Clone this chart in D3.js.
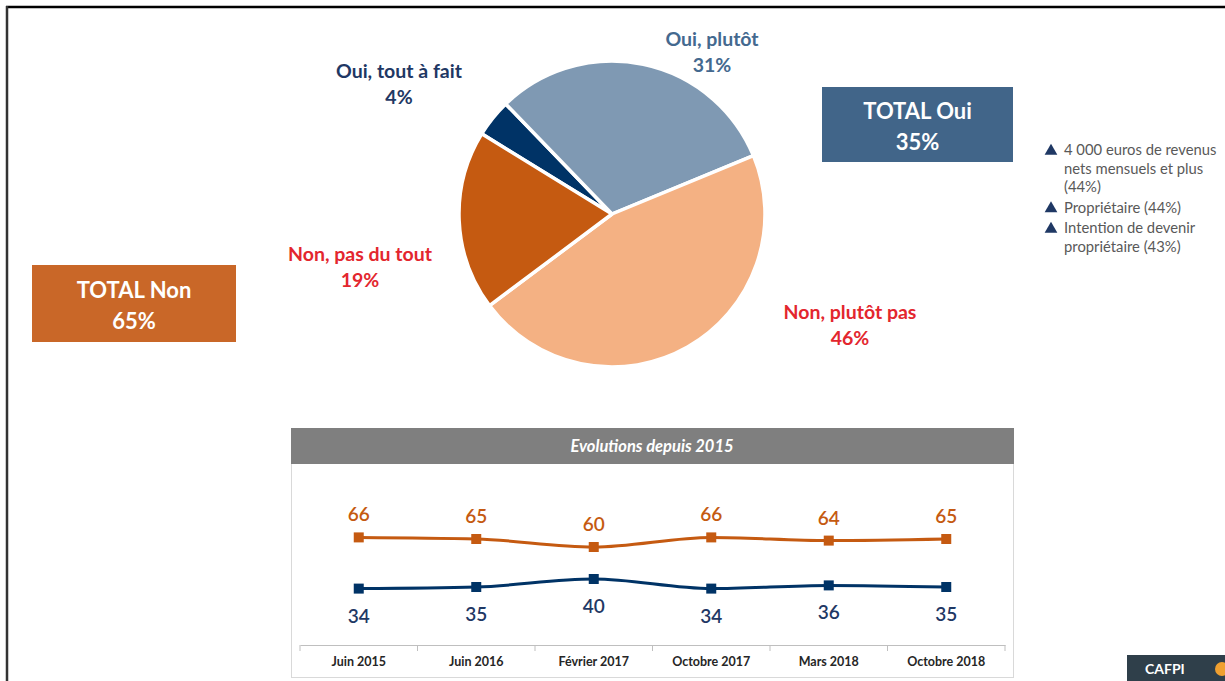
<!DOCTYPE html>
<html>
<head>
<meta charset="utf-8">
<script src="https://cdn.jsdelivr.net/npm/d3@7"></script>
<style>
html,body{margin:0;padding:0;background:#fff;}
svg{display:block;font-family:Lato,"Open Sans",sans-serif;}
</style>
</head>
<body>
<svg id="chart" width="1225" height="681"></svg>
<script>
// ---- Data ----
const pieCategories = ["Oui, tout à fait", "Oui, plutôt", "Non, plutôt pas", "Non, pas du tout"];
const pieValues = [4, 31, 46, 19];
const pieColors = ["#003366", "#7f99b3", "#f4b183", "#c55a11"];
const pieLabelColors = ["#1f3864", "#44698f", "#e3262e", "#e3262e"];

const totalLabels = ["TOTAL Oui", "TOTAL Non"];
const totalValues = [35, 65];

const legendItems = ["4 000 euros de revenus|nets mensuels et plus|(44%)", "Propriétaire (44%)", "Intention de devenir|propriétaire (43%)"];

const periods = ["Juin 2015", "Juin 2016", "Février 2017", "Octobre 2017", "Mars 2018", "Octobre 2018"];
const serieNon = [66, 65, 60, 66, 64, 65];
const serieOui = [34, 35, 40, 34, 36, 35];
const lineTitle = "Evolutions depuis 2015";

// ---- Drawing ----
const svg = d3.select("#chart");

// frame
svg.append("line").attr("x1", 6).attr("x2", 1225).attr("y1", 7).attr("y2", 7).attr("stroke", "#000").attr("stroke-width", 2.5);
svg.append("line").attr("x1", 7).attr("x2", 7).attr("y1", 6).attr("y2", 681).attr("stroke", "#333").attr("stroke-width", 2.5);

// pie
const cx = 612, cy = 214, R = 153;
const pie = d3.pie().sort(null).value(d => d)
  .startAngle(-58.4 * Math.PI / 180).endAngle((360 - 58.4) * Math.PI / 180);
const arcs = pie(pieValues);
const arc = d3.arc().innerRadius(0).outerRadius(R);
const gPie = svg.append("g").attr("transform", `translate(${cx},${cy})`);
gPie.selectAll("path").data(arcs).join("path")
  .attr("d", arc)
  .attr("fill", (d, i) => pieColors[i])
  .attr("stroke", "#fff").attr("stroke-width", 3.5).attr("stroke-linejoin", "round");

// pie labels (placed outside)
const labelPos = [[399, 78], [712, 46], [850, 319], [360, 261]];
pieCategories.forEach((c, i) => {
  const t = svg.append("text").attr("text-anchor", "middle")
    .attr("font-weight", 700).attr("font-size", 19.5).attr("fill", pieLabelColors[i]);
  t.append("tspan").attr("x", labelPos[i][0]).attr("y", labelPos[i][1]).text(c);
  t.append("tspan").attr("x", labelPos[i][0]).attr("y", labelPos[i][1] + 26).text(pieValues[i] + "%");
});

// total boxes
const boxes = [
  {x: 822, y: 87, w: 191, h: 75, fill: "#416589"},
  {x: 32, y: 265, w: 204, h: 77, fill: "#c96728"}
];
boxes.forEach((b, i) => {
  svg.append("rect").attr("x", b.x).attr("y", b.y).attr("width", b.w).attr("height", b.h).attr("fill", b.fill);
  const t = svg.append("text").attr("text-anchor", "middle").attr("fill", "#fff")
    .attr("font-weight", 700).attr("font-size", 22);
  t.append("tspan").attr("x", b.x + b.w / 2).attr("y", b.y + b.h / 2 - 6).text(totalLabels[i]);
  t.append("tspan").attr("x", b.x + b.w / 2).attr("y", b.y + b.h / 2 + 25).text(totalValues[i] + "%");
});

// legend
let ly = 155;
legendItems.forEach((it, i) => {
  const lines = it.split("|");
  svg.append("path").attr("d", d3.symbol(d3.symbolTriangle, 70)())
    .attr("transform", `translate(1051,${ly - 4})`).attr("fill", "#1f3864");
  lines.forEach((l, j) => {
    svg.append("text").attr("x", 1064).attr("y", ly + j * 18.5)
      .attr("font-size", 14.8).attr("fill", "#595959").text(l);
  });
  ly += lines.length * 18.5 + 2;
});

// line chart panel
const px0 = 291, px1 = 1013, py0 = 428, py1 = 677;
svg.append("rect").attr("x", px0 + 0.5).attr("y", py0 + 0.5).attr("width", px1 - px0).attr("height", py1 - py0)
  .attr("fill", "#fff").attr("stroke", "#d9d9d9").attr("stroke-width", 1);
svg.append("rect").attr("x", px0).attr("y", py0).attr("width", px1 - px0 + 1).attr("height", 36).attr("fill", "#7f7f7f");
svg.append("text").attr("x", (px0 + px1) / 2).attr("y", 452).attr("text-anchor", "middle")
  .attr("fill", "#fff").attr("font-style", "italic").attr("font-weight", 700).attr("font-size", 16.5).text(lineTitle);

const x = d3.scaleBand().domain(periods).range([300, 1005]);
const y = d3.scaleLinear().domain([0, 100]).range([643, 483]);
const xAxis = d3.axisBottom(x).tickSize(0).tickPadding(12);
const gx = svg.append("g").attr("transform", "translate(0,645)").call(xAxis);
gx.select(".domain").attr("stroke", "#bfbfbf");
gx.selectAll("text").attr("font-size", 12.5).attr("font-weight", 700).attr("fill", "#262626").attr("font-family", "Lato, sans-serif");
// boundary ticks
const bounds = periods.map(p => x(p)).concat([x.range()[1]]);
svg.append("g").selectAll("line").data(bounds).join("line")
  .attr("x1", d => d).attr("x2", d => d).attr("y1", 645).attr("y2", 651).attr("stroke", "#bfbfbf");

const line = d3.line().x((d, i) => x(periods[i]) + x.bandwidth() / 2).y(d => y(d)).curve(d3.curveMonotoneX);
const series = [
  {vals: serieNon, color: "#c55a11", dy: -16},
  {vals: serieOui, color: "#003366", dy: 34}
];
series.forEach(s => {
  svg.append("path").attr("d", line(s.vals)).attr("fill", "none").attr("stroke", s.color).attr("stroke-width", 3);
  svg.append("g").selectAll("rect").data(s.vals).join("rect")
    .attr("x", (d, i) => x(periods[i]) + x.bandwidth() / 2 - 5)
    .attr("y", d => y(d) - 5).attr("width", 10).attr("height", 10).attr("fill", s.color);
  svg.append("g").selectAll("text").data(s.vals).join("text")
    .attr("x", (d, i) => x(periods[i]) + x.bandwidth() / 2)
    .attr("y", d => y(d) + s.dy).attr("text-anchor", "middle")
    .attr("font-size", 19).attr("font-weight", 600)
    .attr("fill", s.color === "#003366" ? "#1f3864" : s.color).text(d => d);
});

// logo corner
svg.append("rect").attr("x", 1127).attr("y", 655).attr("width", 98).attr("height", 26).attr("fill", "#2f3f4a");
svg.append("text").attr("x", 1145).attr("y", 674).attr("fill", "#fff").attr("font-weight", 700).attr("font-size", 14).text("CAFPI");
svg.append("circle").attr("cx", 1222).attr("cy", 669).attr("r", 7).attr("fill", "#f0a030");
</script>
</body>
</html>
